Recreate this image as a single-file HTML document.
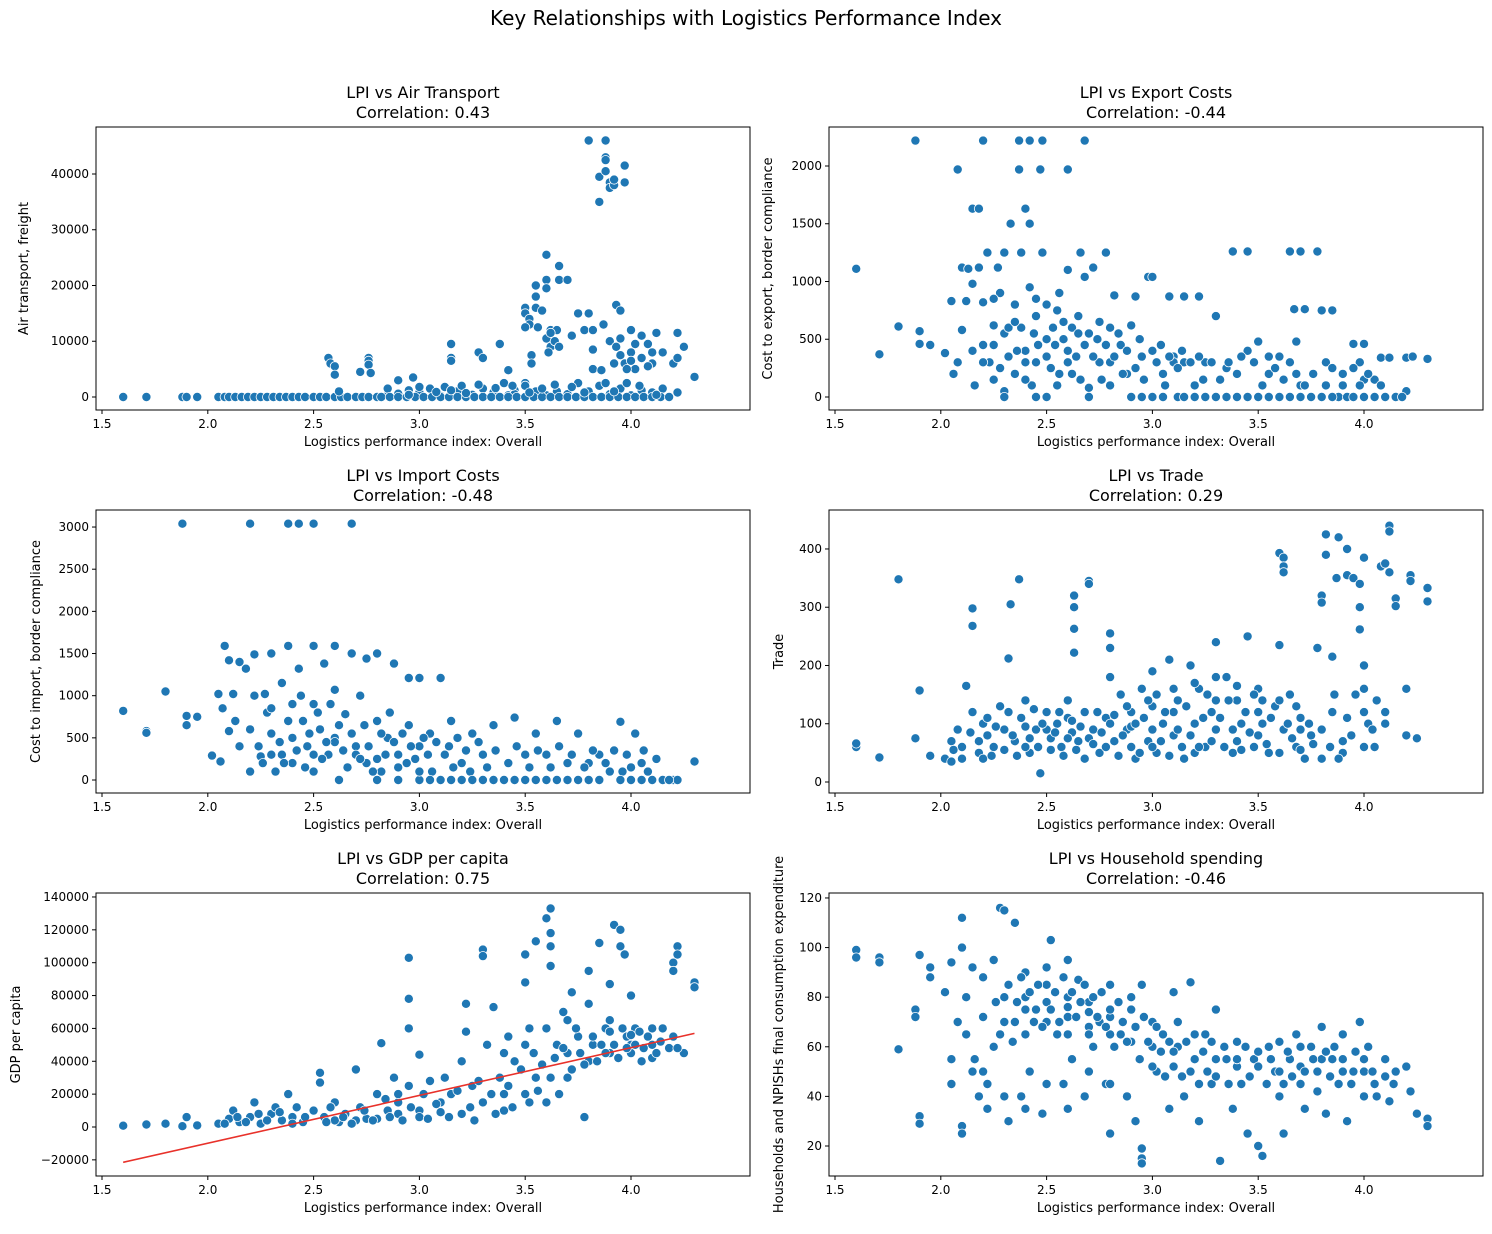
<!DOCTYPE html>
<html><head><meta charset="utf-8">
<style>
html,body{margin:0;padding:0;background:#fff;}
svg text{font-family:"DejaVu Sans","Liberation Sans",sans-serif;fill:#000;}
</style></head>
<body>
<svg id="chart" width="1492" height="1229" xmlns="http://www.w3.org/2000/svg">
<text x="746" y="25" font-size="20" text-anchor="middle">Key Relationships with Logistics Performance Index</text>
</svg>
<script>
// ---- data ----
const xTicks=[1.5,2.0,2.5,3.0,3.5,4.0];
const xTickLabels=["1.5","2.0","2.5","3.0","3.5","4.0"];
const air=[[1.6,0],[1.71,0],[1.88,0],[1.9,0],[1.95,0],[2.05,0],[2.08,0],[2.1,0],[2.13,0],[2.16,0],[2.19,0],[2.22,0],[2.25,0],[2.28,0],[2.31,0],[2.34,0],[2.37,0],[2.4,0],[2.43,0],[2.46,0],[2.5,0],[2.53,0],[2.56,0],[2.6,0],[2.63,0],[2.66,0],[2.7,0],[2.73,0],[2.76,0],[2.8,0],[2.85,300],[2.9,600],[2.95,1200],[2.97,3500],[3.0,800],[3.05,1500],[3.1,200],[3.12,1800],[3.18,1000],[3.2,2000],[3.25,400],[3.3,1500],[3.35,800],[3.4,2500],[3.42,300],[3.45,1200],[2.57,7000],[2.58,6000],[2.6,5500],[2.6,4000],[2.62,1000],[2.72,4500],[2.76,7000],[2.76,6500],[2.76,5800],[2.77,4300],[2.85,1500],[2.9,3000],[3.15,9500],[3.15,7000],[3.15,6500],[3.28,8000],[3.3,7000],[3.38,9500],[3.42,4800],[3.5,16000],[3.5,15000],[3.52,14000],[3.52,13000],[3.5,12500],[3.55,20000],[3.55,18000],[3.55,16000],[3.53,7500],[3.53,6000],[3.5,2500],[3.6,25500],[3.6,21000],[3.6,19500],[3.62,12000],[3.6,10500],[3.62,9000],[3.61,8000],[3.65,12000],[3.66,23500],[3.66,21000],[3.7,21000],[3.72,11000],[3.75,15000],[3.78,12000],[3.8,46000],[3.8,15000],[3.82,12000],[3.82,5000],[3.85,35000],[3.85,39500],[3.87,13000],[3.88,46000],[3.88,43000],[3.88,42500],[3.88,40500],[3.9,38500],[3.9,37500],[3.92,38000],[3.92,39000],[3.93,16500],[3.95,15500],[3.97,41500],[3.97,38500],[3.9,10000],[3.93,9000],[3.95,7500],[3.97,6000],[4.0,12000],[4.0,8000],[4.02,5000],[4.05,11000],[4.05,7000],[4.08,9500],[4.1,6000],[4.12,11500],[4.15,8000],[4.2,6000],[4.22,7000],[4.22,11500],[4.25,9000],[4.3,3600],[3.65,1000],[3.7,500],[3.75,2500],[3.8,1000],[3.85,2000],[3.9,500],[3.95,1500],[4.0,300],[4.05,1200],[4.1,800],[4.15,1500],[3.6,300],[3.55,1000],[3.5,2000],[3.45,500],[4.22,800],
[2.82,0],[2.86,0],[2.9,0],[2.94,0],[2.98,0],[3.02,0],[3.06,0],[3.1,0],[3.14,0],[3.18,0],[3.22,0],[3.26,0],[3.3,0],[3.34,0],[3.38,0],[3.42,0],[3.46,0],[3.5,0],[3.54,0],[3.58,0],[3.62,0],[3.66,0],[3.7,0],[3.74,0],[3.78,0],[3.82,0],[3.86,0],[3.9,0],[3.94,0],[3.98,0],[4.02,0],[4.06,0],[4.1,0],[4.14,0],[4.18,0],[2.95,400],[3.0,1800],[3.08,900],[3.15,1200],[3.22,700],[3.28,2200],[3.36,1600],[3.44,2000],[3.52,800],[3.58,1500],[3.64,2200],[3.72,1800],[3.78,800],[3.88,2500],[3.92,1000],[3.98,2500],[4.04,2000],[4.12,400],[3.95,10500],[4.02,9500],[3.98,5000],[4.08,5500],[4.1,8000],[3.92,6000],[4.0,6500],[3.86,4800],[3.82,8500],[3.62,11500],[3.64,10000],[3.66,9000],[3.58,15500],[3.56,12500]];
const exportCost=[[1.6,1110],[1.71,370],[1.8,610],[1.88,2220],[1.9,570],[1.9,460],[1.95,450],[2.02,380],[2.05,830],[2.06,200],[2.08,1970],[2.08,300],[2.1,1120],[2.1,580],[2.12,830],[2.13,1110],[2.15,1630],[2.15,980],[2.15,400],[2.16,100],[2.18,1630],[2.18,1120],[2.2,2220],[2.2,820],[2.2,450],[2.22,1250],[2.23,300],[2.25,620],[2.25,150],[2.27,1120],[2.28,900],[2.3,1250],[2.3,550],[2.3,50],[2.32,350],[2.33,1500],[2.35,800],[2.35,200],[2.37,2220],[2.37,1970],[2.38,1250],[2.38,600],[2.4,1630],[2.4,400],[2.42,2220],[2.42,1500],[2.42,950],[2.43,100],[2.45,700],[2.45,300],[2.47,1970],[2.48,2220],[2.48,1250],[2.5,800],[2.5,500],[2.52,250],[2.53,600],[2.55,100],[2.56,900],[2.58,650],[2.6,1970],[2.6,1100],[2.6,400],[2.62,200],[2.65,700],[2.66,1250],[2.68,2220],[2.68,1040],[2.7,550],[2.7,80],[2.72,1120],[2.75,650],[2.75,300],[2.78,1250],[2.8,600],[2.8,100],[2.82,880],[2.85,450],[2.88,200],[2.9,620],[2.92,870],[2.95,350],[2.98,1040],[3.0,1040],[3.0,400],[3.0,0],[3.05,200],[3.08,870],[3.1,350],[3.12,0],[3.15,870],[3.15,300],[3.2,100],[3.22,870],[3.25,300],[3.3,700],[3.3,0],[3.35,250],[3.38,1260],[3.4,0],[3.45,1260],[3.45,400],[3.5,480],[3.5,0],[3.55,200],[3.6,0],[3.6,350],[3.65,1260],[3.67,760],[3.68,480],[3.7,1260],[3.7,100],[3.72,760],[3.75,0],[3.78,1260],[3.8,750],[3.82,300],[3.85,750],[3.88,0],[3.9,200],[3.92,0],[3.95,460],[3.98,300],[4.0,460],[4.0,0],[4.05,150],[4.08,340],[4.1,0],[4.12,340],[4.15,0],[4.2,340],[4.2,50],[4.23,350],[4.3,330],[2.3,0],[2.5,0],[2.7,0],[2.9,0],[3.2,0],[3.8,0],[4.0,150],[2.6,300],[2.4,300],[2.8,300],[2.2,300],[3.1,300],
[2.25,450],[2.28,250],[2.32,600],[2.36,400],[2.4,150],[2.44,550],[2.46,450],[2.5,350],[2.54,450],[2.56,200],[2.58,500],[2.62,600],[2.64,350],[2.66,150],[2.68,450],[2.72,350],[2.74,500],[2.76,150],[2.78,450],[2.82,350],[2.84,550],[2.86,200],[2.88,400],[2.92,250],[2.94,500],[2.96,150],[3.02,300],[3.04,450],[3.06,100],[3.08,350],[3.12,250],[3.14,400],[3.18,300],[3.22,350],[3.24,150],[3.28,300],[3.32,150],[3.36,300],[3.4,200],[3.42,350],[3.48,300],[3.52,100],[3.55,350],[3.58,250],[3.62,150],[3.65,300],[3.68,200],[3.72,100],[3.76,200],[3.82,100],[3.85,250],[3.9,100],[3.95,250],[3.98,100],[4.02,200],[4.08,100],[2.95,0],[3.05,0],[3.15,0],[3.25,0],[3.35,0],[3.45,0],[3.55,0],[3.65,0],[3.7,0],[3.85,0],[3.95,0],[4.05,0],[4.18,0],[2.45,0],[2.35,650],[2.55,750],[2.65,550],[2.45,850],[2.25,850]];
const importCost=[[1.6,820],[1.71,580],[1.71,560],[1.8,1050],[1.88,3040],[1.9,760],[1.9,650],[1.95,750],[2.02,290],[2.05,1020],[2.06,220],[2.07,850],[2.08,1590],[2.1,1420],[2.1,580],[2.12,1020],[2.13,700],[2.15,1400],[2.15,400],[2.18,1320],[2.2,3040],[2.2,100],[2.22,1490],[2.22,1000],[2.25,280],[2.27,1020],[2.28,800],[2.3,1500],[2.3,550],[2.32,100],[2.35,1150],[2.35,300],[2.38,3040],[2.38,1590],[2.4,900],[2.4,200],[2.43,3040],[2.43,1320],[2.45,700],[2.47,400],[2.5,3040],[2.5,1590],[2.5,900],[2.5,100],[2.53,600],[2.55,1380],[2.57,300],[2.6,1590],[2.6,1070],[2.6,500],[2.62,0],[2.65,780],[2.68,3040],[2.68,1500],[2.7,400],[2.72,1000],[2.75,1440],[2.75,200],[2.8,1500],[2.8,700],[2.82,100],[2.85,500],[2.88,1380],[2.9,300],[2.95,1210],[2.95,650],[3.0,1210],[3.0,400],[3.0,0],[3.05,550],[3.1,1210],[3.1,0],[3.12,300],[3.15,700],[3.2,0],[3.25,550],[3.3,300],[3.3,0],[3.35,650],[3.4,0],[3.45,740],[3.5,300],[3.5,0],[3.55,550],[3.6,0],[3.65,700],[3.7,200],[3.7,0],[3.75,550],[3.8,0],[3.85,300],[3.9,100],[3.95,690],[3.98,300],[4.0,0],[4.02,550],[4.05,200],[4.1,0],[4.12,250],[4.15,0],[4.2,0],[4.22,0],[4.3,220],[2.3,300],[2.5,300],[2.7,300],[2.9,150],[3.2,200],[3.6,300],[3.8,200],[4.0,150],[2.4,500],[2.6,450],[2.8,250],[3.0,100],
[2.2,600],[2.24,400],[2.26,200],[2.3,850],[2.34,450],[2.36,200],[2.38,700],[2.42,350],[2.44,1000],[2.46,150],[2.48,550],[2.52,800],[2.54,250],[2.56,450],[2.58,900],[2.62,650],[2.64,350],[2.66,150],[2.68,550],[2.72,250],[2.74,650],[2.76,400],[2.78,100],[2.82,550],[2.84,300],[2.86,800],[2.88,450],[2.92,550],[2.94,200],[2.96,400],[2.98,250],[3.02,500],[3.04,300],[3.06,100],[3.08,450],[3.14,400],[3.16,150],[3.18,500],[3.22,350],[3.24,100],[3.28,450],[3.32,150],[3.36,350],[3.42,200],[3.46,400],[3.52,150],[3.56,350],[3.62,150],[3.66,400],[3.72,300],[3.78,150],[3.82,350],[3.88,200],[3.92,350],[3.96,100],[4.06,350],[4.08,100],[3.05,0],[3.15,0],[3.25,0],[3.35,0],[3.45,0],[3.55,0],[3.65,0],[3.75,0],[3.85,0],[3.95,0],[4.05,0],[4.18,0],[2.9,0],[2.8,0]];
const trade=[[1.6,60],[1.6,66],[1.71,42],[1.8,348],[1.88,75],[1.9,157],[1.95,45],[2.02,40],[2.05,70],[2.05,35],[2.08,90],[2.1,60],[2.12,165],[2.15,120],[2.15,298],[2.15,268],[2.18,50],[2.2,100],[2.22,80],[2.25,60],[2.28,130],[2.3,90],[2.32,212],[2.33,305],[2.35,70],[2.37,348],[2.38,110],[2.4,140],[2.42,50],[2.45,90],[2.47,15],[2.5,120],[2.52,75],[2.55,100],[2.57,60],[2.6,140],[2.62,85],[2.63,320],[2.63,300],[2.63,263],[2.63,222],[2.65,70],[2.68,120],[2.7,345],[2.7,340],[2.72,90],[2.75,50],[2.78,110],[2.8,255],[2.8,230],[2.8,180],[2.82,70],[2.85,150],[2.88,90],[2.9,120],[2.92,40],[2.95,160],[2.98,70],[3.0,190],[3.0,130],[3.02,50],[3.05,100],[3.08,210],[3.1,80],[3.12,140],[3.15,40],[3.18,200],[3.2,100],[3.22,160],[3.25,60],[3.28,120],[3.3,240],[3.3,90],[3.35,180],[3.38,50],[3.4,140],[3.42,100],[3.45,250],[3.48,60],[3.5,160],[3.52,100],[3.55,50],[3.58,130],[3.6,393],[3.62,385],[3.62,370],[3.62,360],[3.6,235],[3.62,90],[3.65,150],[3.68,60],[3.7,110],[3.72,40],[3.75,80],[3.78,230],[3.8,320],[3.8,308],[3.82,425],[3.82,390],[3.85,215],[3.85,120],[3.87,350],[3.88,420],[3.9,50],[3.92,355],[3.92,400],[3.95,350],[3.98,340],[3.98,300],[3.98,262],[4.0,385],[4.0,200],[4.0,160],[4.02,100],[4.05,60],[4.08,370],[4.1,375],[4.12,440],[4.12,430],[4.12,360],[4.15,315],[4.15,302],[4.2,160],[4.2,80],[4.22,355],[4.22,345],[4.25,75],[4.3,333],[4.3,310],[2.2,40],[2.4,60],[2.6,110],[2.8,100],[3.0,60],[3.2,50],[3.4,70],[3.6,50],[3.8,40],[4.0,60],[2.5,90],[2.7,75],[2.9,95],[3.1,120],[3.3,140],[3.5,120],[3.7,90],[3.9,70],[4.1,120],
[2.06,55],[2.1,40],[2.14,85],[2.18,70],[2.22,110],[2.24,45],[2.26,95],[2.3,55],[2.32,120],[2.34,80],[2.36,45],[2.4,95],[2.42,75],[2.44,125],[2.46,60],[2.48,100],[2.52,55],[2.54,85],[2.56,120],[2.58,45],[2.6,75],[2.62,105],[2.64,55],[2.66,95],[2.68,40],[2.72,65],[2.74,120],[2.76,85],[2.78,60],[2.82,115],[2.84,45],[2.86,80],[2.88,130],[2.9,60],[2.92,100],[2.94,50],[2.96,110],[2.98,140],[3.0,90],[3.02,150],[3.04,70],[3.06,120],[3.08,45],[3.1,160],[3.12,90],[3.14,60],[3.16,130],[3.18,80],[3.2,170],[3.22,60],[3.24,110],[3.26,150],[3.28,70],[3.3,180],[3.32,110],[3.34,60],[3.36,140],[3.38,90],[3.4,165],[3.42,55],[3.44,120],[3.46,85],[3.48,150],[3.5,80],[3.52,140],[3.54,65],[3.56,110],[3.6,140],[3.64,100],[3.66,75],[3.68,130],[3.7,55],[3.74,100],[3.76,65],[3.8,90],[3.84,60],[3.86,150],[3.88,40],[3.92,110],[3.94,80],[3.96,150],[4.0,120],[4.04,90],[4.06,140],[4.1,100]];
const gdp=[[1.6,800],[1.71,1500],[1.8,2000],[1.88,500],[1.9,6000],[1.95,1000],[2.05,2000],[2.1,5000],[2.12,10000],[2.15,3000],[2.2,6000],[2.22,15000],[2.25,2000],[2.3,8000],[2.32,12000],[2.35,4000],[2.38,20000],[2.4,6000],[2.45,3000],[2.5,10000],[2.53,33000],[2.53,27000],[2.55,6000],[2.6,15000],[2.62,3000],[2.65,8000],[2.7,35000],[2.72,12000],[2.75,5000],[2.8,20000],[2.82,51000],[2.85,10000],[2.88,30000],[2.9,15000],[2.95,103000],[2.95,78000],[2.95,60000],[2.95,25000],[3.0,44000],[3.0,10000],[3.05,28000],[3.1,15000],[3.12,30000],[3.15,20000],[3.2,40000],[3.22,75000],[3.22,58000],[3.25,25000],[3.3,108000],[3.3,104000],[3.32,50000],[3.35,73000],[3.38,30000],[3.4,20000],[3.42,55000],[3.45,40000],[3.5,105000],[3.5,88000],[3.52,60000],[3.55,30000],[3.55,113000],[3.6,127000],[3.62,133000],[3.62,118000],[3.62,110000],[3.62,98000],[3.65,50000],[3.68,70000],[3.7,45000],[3.72,82000],[3.75,55000],[3.78,6000],[3.8,95000],[3.82,50000],[3.85,112000],[3.88,60000],[3.9,87000],[3.92,123000],[3.95,120000],[3.95,110000],[3.97,105000],[3.98,55000],[4.0,50000],[4.02,60000],[4.05,40000],[4.1,50000],[4.15,60000],[4.2,100000],[4.2,95000],[4.22,110000],[4.22,105000],[4.25,45000],[4.3,88000],[4.3,85000],[2.4,2000],[2.6,4000],[2.8,5000],[3.0,6000],[3.2,8000],[3.4,10000],[3.6,15000],[3.7,30000],[3.8,40000],[3.9,45000],[4.0,45000],[4.1,42000],[3.3,15000],[3.5,20000],[2.9,8000],[2.7,4000],[3.1,9000],
[2.08,2000],[2.14,6000],[2.18,3000],[2.24,8000],[2.28,4000],[2.34,9000],[2.42,12000],[2.46,6000],[2.56,3000],[2.58,12000],[2.64,6000],[2.68,2000],[2.74,10000],[2.78,4000],[2.84,17000],[2.86,6000],[2.9,20000],[2.92,4000],[2.96,12000],[3.02,20000],[3.04,5000],[3.08,14000],[3.14,6000],[3.18,22000],[3.24,12000],[3.26,4000],[3.28,28000],[3.34,20000],[3.36,8000],[3.42,25000],[3.44,12000],[3.48,35000],[3.52,15000],[3.54,45000],[3.56,22000],[3.58,38000],[3.62,30000],[3.64,42000],[3.66,20000],[3.68,48000],[3.72,35000],[3.74,60000],[3.76,45000],[3.78,38000],[3.82,55000],[3.84,40000],[3.86,50000],[3.88,45000],[3.9,58000],[3.92,50000],[3.94,42000],[3.96,60000],[3.98,48000],[4.0,56000],[4.02,50000],[4.04,58000],[4.06,48000],[4.08,55000],[4.1,60000],[4.12,45000],[4.14,52000],[4.18,48000],[4.2,55000],[4.22,48000],[3.7,65000],[3.8,75000],[3.9,65000],[4.0,80000],[3.6,60000],[3.5,50000],[3.4,45000]];
const regLine=[[1.6,-21500],[4.3,57000]];
const hh=[[1.6,99],[1.6,96],[1.71,96],[1.71,94],[1.8,59],[1.88,75],[1.88,72],[1.9,97],[1.9,32],[1.9,29],[1.95,92],[1.95,88],[2.02,82],[2.05,94],[2.05,55],[2.05,45],[2.08,70],[2.1,112],[2.1,100],[2.1,28],[2.1,25],[2.12,65],[2.15,92],[2.15,50],[2.18,40],[2.2,88],[2.22,35],[2.25,95],[2.25,60],[2.28,116],[2.3,115],[2.3,80],[2.32,30],[2.35,110],[2.35,70],[2.38,40],[2.4,90],[2.42,50],[2.45,75],[2.48,33],[2.5,85],[2.52,103],[2.55,65],[2.58,45],[2.6,95],[2.6,80],[2.62,55],[2.65,87],[2.68,40],[2.7,78],[2.72,60],[2.75,70],[2.78,45],[2.8,85],[2.8,25],[2.85,65],[2.88,40],[2.9,75],[2.92,30],[2.95,85],[2.95,19],[2.95,15],[2.95,13],[3.0,70],[3.02,50],[3.05,65],[3.08,35],[3.1,82],[3.12,60],[3.15,40],[3.18,86],[3.2,55],[3.22,30],[3.25,65],[3.28,45],[3.3,75],[3.32,14],[3.35,55],[3.38,35],[3.4,62],[3.42,45],[3.45,25],[3.48,55],[3.5,20],[3.52,16],[3.55,60],[3.58,50],[3.6,40],[3.62,25],[3.65,55],[3.68,65],[3.7,45],[3.72,35],[3.75,60],[3.78,50],[3.8,68],[3.82,33],[3.85,55],[3.88,45],[3.9,65],[3.92,30],[3.95,50],[3.98,70],[4.0,40],[4.02,60],[4.05,45],[4.1,55],[4.12,38],[4.15,50],[4.2,52],[4.22,42],[4.25,33],[4.3,31],[4.3,28],[2.3,70],[2.4,75],[2.5,70],[2.6,72],[2.7,68],[2.8,65],[2.9,62],[3.0,60],[3.1,58],[3.2,55],[3.3,55],[3.4,52],[3.5,52],[3.6,50],[3.7,52],[3.8,55],[3.9,50],[4.0,50],[2.4,80],[2.5,78],[2.6,76],[2.7,74],[2.8,72],
[2.12,80],[2.16,55],[2.2,72],[2.22,45],[2.26,78],[2.28,65],[2.32,85],[2.34,62],[2.36,78],[2.38,88],[2.4,65],[2.42,82],[2.44,70],[2.46,85],[2.48,68],[2.5,92],[2.52,75],[2.54,82],[2.56,70],[2.58,88],[2.6,65],[2.62,82],[2.64,72],[2.66,78],[2.68,85],[2.7,65],[2.72,80],[2.74,72],[2.76,82],[2.78,68],[2.8,75],[2.82,60],[2.84,78],[2.86,70],[2.88,62],[2.9,80],[2.92,68],[2.94,55],[2.96,72],[2.98,62],[3.0,52],[3.02,68],[3.04,58],[3.06,48],[3.08,62],[3.1,52],[3.12,70],[3.14,48],[3.16,62],[3.18,50],[3.2,65],[3.22,45],[3.24,58],[3.26,50],[3.28,62],[3.3,48],[3.34,60],[3.36,45],[3.4,55],[3.44,60],[3.46,48],[3.5,58],[3.54,45],[3.56,55],[3.6,62],[3.62,45],[3.64,58],[3.66,48],[3.7,60],[3.72,50],[3.76,55],[3.78,42],[3.82,58],[3.84,48],[3.86,60],[3.9,55],[3.94,45],[3.96,58],[4.0,55],[4.04,50],[4.06,40],[4.1,48],[4.14,45],[2.3,40],[2.4,35],[2.5,45],[2.6,35],[2.2,50],[2.7,50],[2.8,45]];

const panels=[
 {name:"air-transport",data:air,l:96,t:127,w:654,h:283,ymin:-2332,ymax:48430,yt:[0,10000,20000,30000,40000],t1:"LPI vs Air Transport",t2:"Correlation: 0.43",ylab:"Air transport, freight",ylx:28},
 {name:"export-costs",data:exportCost,l:829,t:127,w:654,h:283,ymin:-112.6,ymax:2337.6,yt:[0,500,1000,1500,2000],t1:"LPI vs Export Costs",t2:"Correlation: -0.44",ylab:"Cost to export, border compliance",ylx:772},
 {name:"import-costs",data:importCost,l:96,t:510,w:654,h:283,ymin:-154,ymax:3202,yt:[0,500,1000,1500,2000,2500,3000],t1:"LPI vs Import Costs",t2:"Correlation: -0.48",ylab:"Cost to import, border compliance",ylx:40},
 {name:"trade",data:trade,l:829,t:510,w:654,h:283,ymin:-18.9,ymax:466.9,yt:[0,100,200,300,400],t1:"LPI vs Trade",t2:"Correlation: 0.29",ylab:"Trade",ylx:783},
 {name:"gdp-per-capita",data:gdp,l:96,t:893,w:654,h:283,ymin:-29826,ymax:142420,yt:[-20000,0,20000,40000,60000,80000,100000,120000,140000],t1:"LPI vs GDP per capita",t2:"Correlation: 0.75",ylab:"GDP per capita",ylx:20,line:regLine},
 {name:"household-spending",data:hh,l:829,t:893,w:654,h:283,ymin:7.9,ymax:122.0,yt:[20,40,60,80,100,120],t1:"LPI vs Household spending",t2:"Correlation: -0.46",ylab:"Households and NPISHs final consumption expenditure",ylx:783}
];
const XMIN=1.4716,XMAX=4.5624;
const NS="http://www.w3.org/2000/svg";
const svg=document.getElementById('chart');
function mk(tag,attrs,parent,txt){const e=document.createElementNS(NS,tag);for(const k in attrs)e.setAttribute(k,attrs[k]);if(txt!==undefined)e.textContent=txt;parent.appendChild(e);return e;}
panels.forEach(p=>{
 const g=mk('g',{},svg);
 
 
 const xs=v=>p.l+(v-XMIN)/(XMAX-XMIN)*p.w;
 const ys=v=>p.t+p.h-(v-p.ymin)/(p.ymax-p.ymin)*p.h;
 const t1=mk('text',{x:p.l+p.w/2,y:p.t-29,'font-size':16,'text-anchor':'middle'},g,p.t1);
 
 
 const t2=mk('text',{x:p.l+p.w/2,y:p.t-9,'font-size':16,'text-anchor':'middle'},g,p.t2);
 
 
 const pts=mk('g',{},g);
 
 
 p.data.forEach(d=>{
  const c=mk('circle',{cx:xs(d[0]).toFixed(1),cy:ys(d[1]).toFixed(1),r:4.6,fill:'#1f77b4',stroke:'#fff','stroke-width':0.8},pts);
  
  
 });
 if(p.line){
  const ln=mk('line',{x1:xs(p.line[0][0]),y1:ys(p.line[0][1]),x2:xs(p.line[1][0]),y2:ys(p.line[1][1]),stroke:'#e8312a','stroke-width':1.6},g);
  
  
 }
 const fr=mk('rect',{x:p.l,y:p.t,width:p.w,height:p.h,fill:'none',stroke:'#000','stroke-width':1},g);
 
 
 xTicks.forEach((v,i)=>{
  const x=xs(v);
  mk('line',{x1:x,y1:p.t+p.h,x2:x,y2:p.t+p.h+4,stroke:'#000'},g);
  const tl=mk('text',{x:x,y:p.t+p.h+18,'font-size':12,'text-anchor':'middle'},g,xTickLabels[i]);
  
  
 });
 p.yt.forEach(v=>{
  const y=ys(v);
  mk('line',{x1:p.l-4,y1:y,x2:p.l,y2:y,stroke:'#000'},g);
  const tl=mk('text',{x:p.l-7,y:y+4,'font-size':12,'text-anchor':'end'},g,v<0?'\u2212'+(-v):String(v));
  
  
 });
 const xl=mk('text',{x:p.l+p.w/2,y:p.t+p.h+36,'font-size':13,'text-anchor':'middle'},g,'Logistics performance index: Overall');
 
 
 const cy=p.t+p.h/2;
 const yl=mk('text',{x:p.ylx,y:cy,'font-size':13,'text-anchor':'middle',transform:`rotate(-90 ${p.ylx} ${cy})`},g,p.ylab);
 
 
});
</script>
</body></html>
